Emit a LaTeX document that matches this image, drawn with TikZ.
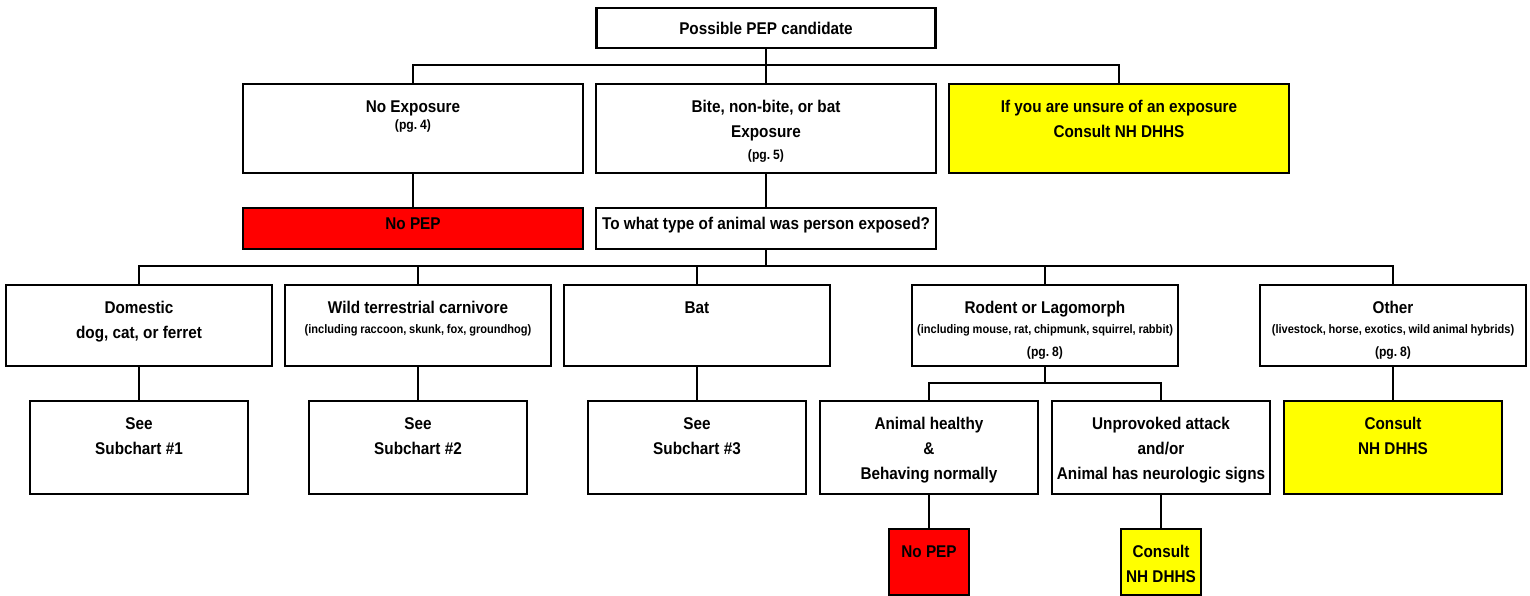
\documentclass[tikz,border=0pt]{standalone}
\usepackage{fontspec}
\setmainfont{Liberation Sans}[FakeStretch=0.9]
\definecolor{pepred}{RGB}{255,0,0}
\definecolor{pepyellow}{RGB}{255,255,0}
\newcommand{\smalltxt}[1]{{\fontsize{12.3}{25}\selectfont\spaceskip=0.22em\relax #1}}
\newcommand{\pgtxt}[1]{{\fontsize{13.5}{25}\selectfont\spaceskip=0.22em\relax #1}}
\frenchspacing

\begin{document}
\begin{tikzpicture}[x=1pt, y=-1pt,
  box/.style={draw, line width=2.4pt, fill=white, align=center, inner sep=0pt,
    anchor=north, font=\bfseries\fontsize{17}{25}\selectfont,
    execute at begin node={\spaceskip=0.25em\relax}},
  bigbox/.style={box, text width=340pt, text height=28pt, text depth=61pt},
  barbox/.style={box, text width=340pt, text height=21pt, text depth=20pt},
  midbox/.style={box, text width=266pt, text height=28pt, text depth=53pt},
  lowbox/.style={box, text width=218pt, text height=28pt, text depth=65pt},
  tinybox/.style={box, text width=80pt, text height=28pt, text depth=38pt},
  link/.style={line width=2.2pt}]

  % 画布范围（像素坐标，y 向下）
  \useasboundingbox (0,0) rectangle (1530,596);

  % ---- 第一层 ----
  \node[box, text width=339pt, text height=26pt, text depth=14pt] (start) at (766,7)
    {Possible PEP candidate};

  % ---- 第二层：暴露类型 ----
  \node[bigbox] (noexp) at (413,83) {No Exposure\\[-8pt]\pgtxt{(pg. 4)}};
  \node[bigbox] (bite) at (766,83) {Bite, non-bite, or bat\\Exposure\\[-3pt]\pgtxt{(pg. 5)}};
  \node[bigbox, fill=pepyellow] (unsure) at (1119,83)
    {If you are unsure of an exposure\\Consult NH DHHS};

  % ---- 第三层 ----
  \node[barbox, fill=pepred] (nopep) at (413,207) {No PEP};
  \node[barbox] (animal) at (766,207) {To what type of animal was person exposed?};

  % ---- 第四层：动物种类 ----
  \node[midbox] (dom) at (139,284) {Domestic\\dog, cat, or ferret};
  \node[midbox] (wild) at (418,284)
    {Wild terrestrial carnivore\\[-5pt]\smalltxt{\mbox{(including raccoon, skunk, fox, groundhog)}}};
  \node[midbox] (bat) at (697,284) {Bat};
  \node[midbox] (rodent) at (1045,284)
    {Rodent or Lagomorph\\[-5pt]\smalltxt{\mbox{(including mouse, rat, chipmunk, squirrel, rabbit)}}\\[-2pt]\pgtxt{(pg. 8)}};
  \node[midbox] (other) at (1393,284)
    {Other\\[-5pt]\smalltxt{\mbox{(livestock, horse, exotics, wild animal hybrids)}}\\[-2pt]\pgtxt{(pg. 8)}};

  % ---- 第五层 ----
  \node[lowbox] (subA) at (139,400) {See\\Subchart \#1};
  \node[lowbox] (subB) at (418,400) {See\\Subchart \#2};
  \node[lowbox] (subC) at (697,400) {See\\Subchart \#3};
  \node[lowbox] (healthy) at (929,400) {Animal healthy\\\&\\Behaving normally};
  \node[lowbox] (unprov) at (1161,400) {Unprovoked attack\\and/or\\Animal has neurologic signs};
  \node[lowbox, fill=pepyellow] (consult) at (1393,400) {Consult\\NH DHHS};

  % ---- 第六层 ----
  \node[tinybox, fill=pepred] (nopepB) at (929,528) {No PEP};
  \node[tinybox, fill=pepyellow] (consultB) at (1161,528) {Consult\\NH DHHS};

  % ---- 连线 ----
  \coordinate (busA) at (766,65);
  \coordinate (busB) at (766,266);
  \coordinate (busC) at (1045,383);

  \draw[link] (start.south) -- (bite.north);
  \draw[link] (noexp.north) |- (busA) -| (unsure.north);
  \draw[link] (noexp.south) -- (nopep.north);
  \draw[link] (bite.south) -- (animal.north);

  \draw[link] (animal.south) -- (busB);
  \draw[link] (dom.north) |- (busB) -| (other.north);
  \draw[link] (wild.north) -- (wild.north |- busB);
  \draw[link] (bat.north) -- (bat.north |- busB);
  \draw[link] (rodent.north) -- (rodent.north |- busB);

  \draw[link] (dom.south) -- (subA.north);
  \draw[link] (wild.south) -- (subB.north);
  \draw[link] (bat.south) -- (subC.north);
  \draw[link] (other.south) -- (consult.north);

  \draw[link] (rodent.south) -- (busC);
  \draw[link] (healthy.north) |- (busC) -| (unprov.north);
  \draw[link] (healthy.south) -- (nopepB.north);
  \draw[link] (unprov.south) -- (consultB.north);

\end{tikzpicture}
\end{document}
